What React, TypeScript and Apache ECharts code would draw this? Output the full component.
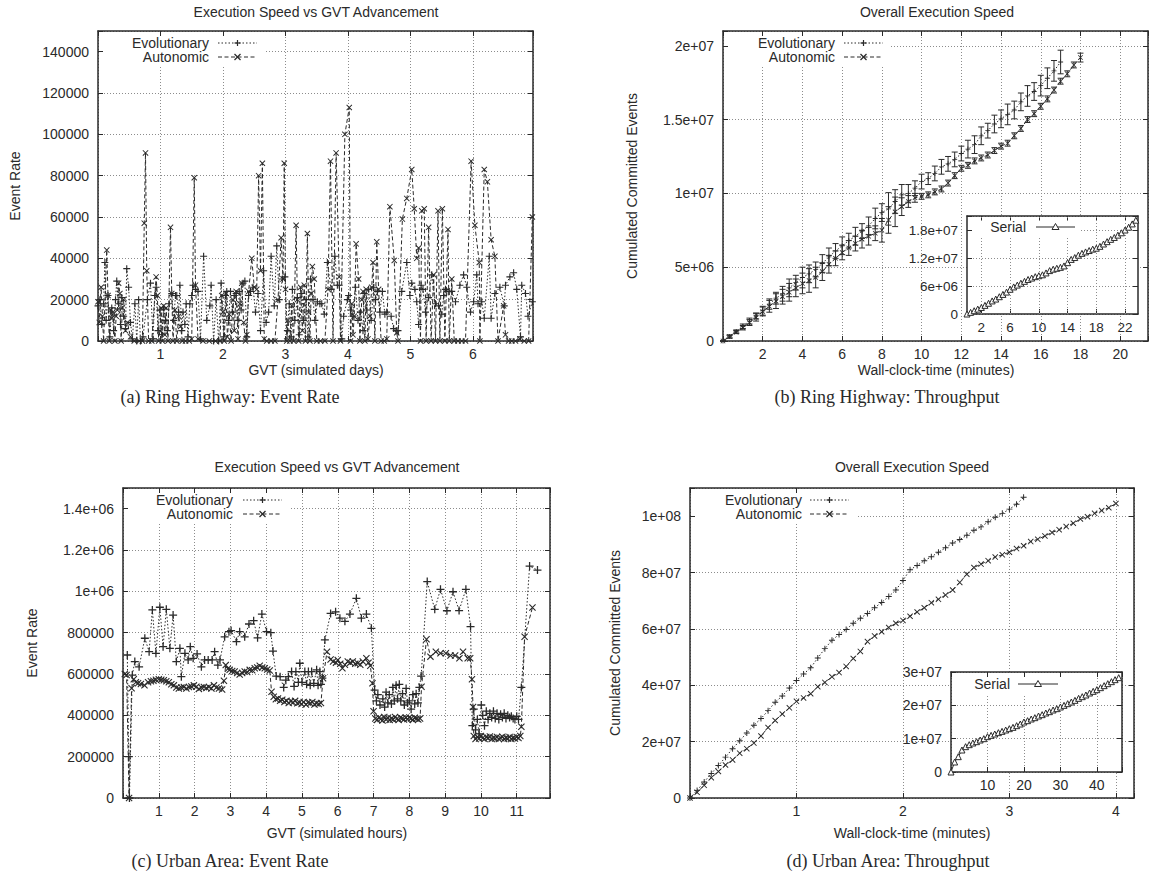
import { useEffect, useRef } from 'react';
import * as echarts from 'echarts';

const INK = '#2a2a2a';
const GRIDC = '#8c8c8c';
const SANS = '"Liberation Sans", Arial, Helvetica, sans-serif';
const SERIF = '"Liberation Serif", "Times New Roman", serif';

// ---------- (a) Ring Highway: Event Rate  [GVT days, thousand events/s]
const aEvolutionary: number[][] = [[0.00,17],[0.03,20],[0.06,8],[0.09,18],[0.11,38],[0.13,10],[0.16,22],[0.19,2],[0.22,16],[0.25,5],[0.28,20],[0.30,29],[0.33,18],[0.36,8],[0.38,21],[0.41,12],[0.44,6],[0.46,35],[0.49,26],[0.52,9],[0.55,1],[0.59,18],[0.62,0],[0.65,20],[0.68,0],[0.72,2],[0.79,20],[0.84,28],[0.88,1],[0.91,22],[0.93,26],[0.96,5],[0.99,15],[1.02,3],[1.05,16],[1.08,10],[1.11,5],[1.14,18],[1.18,23],[1.21,10],[1.24,22],[1.26,22],[1.29,14],[1.31,27],[1.34,5],[1.36,14],[1.39,8],[1.41,18],[1.44,2],[1.47,18],[1.50,22],[1.52,27],[1.56,25],[1.60,24],[1.64,1],[1.69,41],[1.74,10],[1.79,17],[1.81,27],[1.85,0],[1.89,20],[1.93,0],[1.97,28],[2.01,2],[2.04,22],[2.06,24],[2.09,10],[2.12,24],[2.15,14],[2.18,22],[2.21,23],[2.24,10],[2.26,24],[2.29,15],[2.32,28],[2.35,29],[2.38,2],[2.41,22],[2.44,24],[2.48,26],[2.52,14],[2.56,23],[2.60,5],[2.65,34],[2.69,9],[2.73,14],[2.77,41],[2.82,17],[2.86,46],[2.90,20],[2.95,30],[2.99,31],[3.03,5],[3.06,18],[3.09,2],[3.11,25],[3.15,10],[3.19,21],[3.22,3],[3.26,23],[3.29,10],[3.33,20],[3.36,2],[3.40,30],[3.44,20],[3.47,10],[3.51,19],[3.55,18],[3.58,18],[3.62,13],[3.67,38],[3.73,25],[3.79,41],[3.83,27],[3.86,27],[3.90,1],[3.93,12],[3.99,20],[4.01,22],[4.04,15],[4.08,12],[4.12,26],[4.16,10],[4.20,14],[4.24,5],[4.26,23],[4.30,15],[4.33,25],[4.37,10],[4.41,26],[4.44,20],[4.47,24],[4.51,14],[4.55,24],[4.59,13],[4.62,14],[4.69,12],[4.73,6],[4.77,5],[4.80,5],[4.86,24],[4.94,38],[4.99,22],[5.02,28],[5.07,25],[5.10,19],[5.13,8],[5.17,27],[5.20,25],[5.24,14],[5.29,21],[5.34,32],[5.40,18],[5.45,17],[5.50,13],[5.53,22],[5.56,25],[5.58,24],[5.62,24],[5.66,24],[5.72,19],[5.79,27],[5.85,32],[5.90,26],[5.96,14],[6.01,19],[6.06,32],[6.08,18],[6.14,19],[6.18,11],[6.26,41],[6.29,11],[6.35,23],[6.43,26],[6.50,17],[6.52,27],[6.59,31],[6.65,33],[6.70,25],[6.76,2],[6.78,27],[6.84,23],[6.88,12],[6.95,19]];
const aAutonomic: number[][] = [[0.00,19],[0.02,9],[0.05,26],[0.07,12],[0.09,0],[0.14,44],[0.16,22],[0.18,0],[0.20,15],[0.22,11],[0.24,14],[0.27,0],[0.29,12],[0.31,15],[0.33,28],[0.35,23],[0.37,0],[0.39,16],[0.41,20],[0.44,5],[0.47,9],[0.52,2],[0.58,0],[0.66,0],[0.71,0],[0.74,57],[0.76,91],[0.78,34],[0.81,0],[0.86,0],[0.93,31],[0.95,22],[0.97,0],[0.99,5],[1.01,16],[1.03,0],[1.05,17],[1.07,3],[1.09,16],[1.12,0],[1.16,55],[1.18,23],[1.20,0],[1.23,15],[1.26,0],[1.29,12],[1.32,7],[1.35,0],[1.40,0],[1.46,0],[1.50,1],[1.54,79],[1.56,27],[1.60,1],[1.68,0],[1.78,0],[1.88,0],[1.95,0],[1.98,22],[2.00,14],[2.02,0],[2.05,23],[2.07,2],[2.10,13],[2.13,0],[2.16,20],[2.18,5],[2.21,24],[2.24,1],[2.27,18],[2.30,28],[2.33,9],[2.36,0],[2.38,3],[2.41,24],[2.46,40],[2.50,26],[2.54,25],[2.57,80],[2.60,34],[2.63,86],[2.66,1],[2.70,0],[2.77,0],[2.83,0],[2.88,20],[2.93,50],[2.96,30],[2.98,86],[3.00,25],[3.02,0],[3.04,10],[3.07,0],[3.10,17],[3.13,0],[3.17,56],[3.19,20],[3.21,0],[3.24,26],[3.27,5],[3.30,27],[3.32,0],[3.35,52],[3.37,14],[3.39,0],[3.41,23],[3.43,36],[3.46,30],[3.50,0],[3.56,0],[3.63,0],[3.68,25],[3.72,87],[3.76,0],[3.81,91],[3.86,31],[3.88,0],[3.95,100],[4.02,113],[4.04,0],[4.06,18],[4.08,3],[4.10,12],[4.13,47],[4.17,30],[4.19,0],[4.22,20],[4.24,24],[4.27,0],[4.29,25],[4.32,1],[4.35,12],[4.38,26],[4.40,38],[4.43,0],[4.46,48],[4.49,25],[4.53,0],[4.58,0],[4.62,1],[4.67,65],[4.74,39],[4.78,4],[4.80,0],[4.87,59],[4.94,69],[5.02,83],[5.06,64],[5.10,40],[5.13,45],[5.16,0],[5.18,63],[5.22,64],[5.25,0],[5.29,55],[5.33,0],[5.37,32],[5.40,0],[5.44,63],[5.47,0],[5.51,64],[5.55,0],[5.60,54],[5.62,0],[5.66,30],[5.70,0],[5.76,0],[5.82,0],[5.88,0],[5.97,87],[6.03,56],[6.10,38],[6.11,0],[6.18,83],[6.23,77],[6.29,49],[6.35,41],[6.40,0],[6.49,17],[6.52,3],[6.57,0],[6.62,0],[6.68,0],[6.75,1],[6.82,0],[6.89,0],[6.95,60]];

// ---------- (b) Ring Highway: Throughput  [millions of committed events, sampled every bStepMin minutes]
const bStepMin = 1 / 3;
const bEvolutionaryM = [0,0.30,0.65,1.00,1.35,1.70,2.05,2.50,2.90,3.20,3.60,3.95,4.30,4.55,4.85,5.25,5.70,6.10,6.45,6.80,7.10,7.45,7.80,8.30,8.70,8.95,9.45,9.90,10.00,10.35,10.80,11.00,11.35,11.80,12.00,12.30,12.70,13.00,13.30,13.90,14.25,14.70,15.05,15.35,15.65,16.20,16.60,16.90,17.30,17.80,18.30,18.90];
const bEvolutionaryErrM = [0,0.1,0.1,0.15,0.2,0.2,0.3,0.35,0.4,0.5,0.6,0.5,0.7,0.6,0.5,0.6,0.6,0.5,0.6,0.5,0.6,0.5,0.6,0.7,0.6,1.1,0.8,0.7,0.6,0.5,0.5,0.4,0.5,0.5,0.5,0.5,0.5,0.6,0.6,0.6,0.5,0.6,0.6,0.7,0.6,0.6,0.7,0.6,0.7,0.7,0.7,0.8];
const bAutonomicM = [0,0.30,0.60,0.90,1.25,1.60,2.00,2.35,2.70,3.00,3.30,3.60,3.90,4.10,4.30,4.70,5.20,5.60,6.00,6.30,6.60,6.90,7.10,7.30,7.50,8.20,8.75,9.10,9.45,9.70,9.80,9.90,10.10,10.30,10.70,11.20,11.70,11.90,12.20,12.40,12.60,12.90,13.20,13.40,13.90,14.40,15.00,15.40,15.90,16.40,17.00,17.60,18.10,18.70,19.20];
const bAutonomicErrM = [0,0.1,0.1,0.15,0.2,0.25,0.3,0.4,0.5,0.5,0.6,0.6,0.7,0.8,0.7,0.6,0.6,0.5,0.5,0.5,0.5,0.6,0.6,0.5,0.8,0.9,1.0,0.6,0.4,0.3,0.2,0.2,0.2,0.2,0.2,0.2,0.2,0.2,0.2,0.2,0.2,0.2,0.2,0.2,0.2,0.2,0.2,0.2,0.2,0.2,0.2,0.2,0.2,0.2,0.3];
const bSerialStepMin = 0.5;
const bSerialM = [0,0.35,0.7,1.05,1.4,1.85,2.3,2.8,3.2,3.7,4.2,4.7,5.3,5.8,6.2,6.6,7.0,7.4,7.7,8.0,8.2,8.4,8.8,9.3,9.6,9.8,10.0,10.3,11.0,11.7,12.1,12.6,13.0,13.3,13.6,13.9,14.1,14.5,15.0,15.5,16.0,16.4,16.9,17.4,18.0,18.6,19.3,20.1];
const bInsetXTicks = [2, 6, 10, 14, 18, 22];

// ---------- (c) Urban Area: Event Rate  [GVT hours, thousand events/s]
const cEvolutionary: number[][] = [[0.12,692],[0.16,200],[0.18,0],[0.26,595],[0.33,660],[0.45,635],[0.61,773],[0.73,708],[0.82,910],[0.92,700],[1.03,923],[1.12,732],[1.21,913],[1.31,724],[1.40,885],[1.49,660],[1.59,724],[1.63,587],[1.73,700],[1.82,668],[1.88,732],[1.96,676],[2.07,697],[2.19,635],[2.28,668],[2.38,668],[2.49,668],[2.56,708],[2.65,643],[2.71,668],[2.84,780],[2.96,805],[3.02,810],[3.17,757],[3.26,805],[3.40,780],[3.52,842],[3.65,858],[3.76,775],[3.88,890],[4.01,805],[4.13,800],[4.19,711],[4.28,590],[4.39,587],[4.49,535],[4.55,570],[4.62,587],[4.71,612],[4.78,540],[4.83,612],[4.90,560],[4.94,652],[5.00,560],[5.08,612],[5.13,550],[5.18,612],[5.23,545],[5.27,612],[5.33,555],[5.41,620],[5.45,545],[5.50,612],[5.53,550],[5.57,580],[5.64,765],[5.80,893],[5.94,901],[6.06,870],[6.20,855],[6.34,890],[6.52,966],[6.66,870],[6.80,890],[6.94,821],[7.03,522],[7.08,470],[7.12,500],[7.18,450],[7.26,480],[7.31,440],[7.35,512],[7.40,460],[7.44,500],[7.50,455],[7.54,535],[7.58,470],[7.63,545],[7.67,480],[7.72,550],[7.76,470],[7.81,505],[7.86,450],[7.91,530],[7.95,460],[8.00,470],[8.05,430],[8.10,500],[8.15,455],[8.19,505],[8.24,460],[8.28,535],[8.33,590],[8.50,1047],[8.71,913],[8.87,1010],[9.05,906],[9.22,998],[9.39,907],[9.58,1010],[9.71,829],[9.76,350],[9.80,430],[9.85,330],[9.90,380],[9.95,310],[10.01,450],[10.05,400],[10.10,350],[10.15,420],[10.20,380],[10.25,410],[10.30,390],[10.35,420],[10.40,385],[10.45,410],[10.50,380],[10.55,405],[10.60,390],[10.65,410],[10.70,385],[10.75,400],[10.80,390],[10.85,395],[10.90,385],[10.95,380],[11.00,395],[11.05,380],[11.13,535],[11.36,1122],[11.58,1103]];
const cAutonomic: number[][] = [[0.05,600],[0.10,595],[0.17,0],[0.24,531],[0.30,575],[0.36,560],[0.42,555],[0.50,552],[0.60,545],[0.70,560],[0.78,565],[0.85,567],[0.92,572],[1.00,575],[1.07,572],[1.14,570],[1.21,565],[1.28,560],[1.35,550],[1.42,545],[1.49,535],[1.56,530],[1.63,535],[1.70,537],[1.77,530],[1.84,537],[1.91,540],[1.98,545],[2.05,538],[2.12,528],[2.19,535],[2.26,537],[2.33,532],[2.40,537],[2.47,530],[2.54,545],[2.61,535],[2.68,530],[2.77,525],[2.82,567],[2.87,643],[2.93,625],[2.98,620],[3.05,615],[3.12,612],[3.19,605],[3.26,597],[3.33,605],[3.40,612],[3.47,610],[3.54,620],[3.61,618],[3.68,628],[3.75,632],[3.82,640],[3.89,632],[3.96,628],[4.03,622],[4.10,617],[4.15,514],[4.21,490],[4.27,478],[4.33,482],[4.39,470],[4.45,475],[4.51,465],[4.57,470],[4.63,460],[4.69,468],[4.75,462],[4.81,470],[4.87,458],[4.93,462],[4.99,455],[5.05,465],[5.11,452],[5.17,462],[5.23,458],[5.29,465],[5.35,452],[5.41,458],[5.47,455],[5.53,460],[5.59,579],[5.70,708],[5.80,670],[5.87,660],[5.95,655],[6.00,668],[6.07,650],[6.13,628],[6.20,645],[6.28,660],[6.35,655],[6.42,660],[6.49,650],[6.56,652],[6.63,645],[6.70,660],[6.80,676],[6.86,655],[6.91,640],[6.97,555],[7.00,420],[7.05,385],[7.10,378],[7.15,390],[7.20,382],[7.25,375],[7.30,392],[7.35,380],[7.40,388],[7.45,378],[7.50,385],[7.55,380],[7.60,392],[7.65,383],[7.70,378],[7.75,390],[7.80,385],[7.85,380],[7.90,388],[7.95,382],[8.00,390],[8.05,385],[8.10,378],[8.15,388],[8.20,383],[8.25,380],[8.30,385],[8.34,538],[8.48,768],[8.59,684],[8.74,708],[8.87,700],[9.02,700],[9.15,690],[9.28,690],[9.40,676],[9.50,708],[9.63,676],[9.70,676],[9.75,575],[9.78,440],[9.80,300],[9.85,285],[9.90,295],[9.95,288],[10.00,300],[10.05,290],[10.10,285],[10.15,295],[10.20,290],[10.25,298],[10.30,285],[10.35,292],[10.40,288],[10.45,295],[10.50,285],[10.55,290],[10.60,296],[10.65,285],[10.70,292],[10.75,288],[10.80,295],[10.85,285],[10.90,290],[10.95,288],[11.00,295],[11.05,290],[11.10,300],[11.13,345],[11.22,780],[11.44,922]];

// ---------- (d) Urban Area: Throughput  [millions of committed events]
const dStepMin = 1 / 15;
const dEvolutionaryM = [0,2.7,5.7,8.7,11.5,14.5,17.5,20.3,23.1,25.8,28.2,31.0,34.0,36.2,39.0,41.7,44.0,46.2,49.7,53.0,56.0,58.0,59.8,62.0,63.8,65.5,67.5,69.4,71.5,73.8,77.2,81.0,82.5,84.2,85.6,87.2,88.8,90.5,91.7,93.2,95.0,96.2,98.0,99.6,101.0,102.5,104.2,106.7];
const dAutonomicM = [0,2.0,4.5,7.2,9.4,11.7,13.5,15.9,17.5,19.5,22.0,25.0,27.5,29.8,32.0,34.3,35.5,37.0,39.5,41.0,43.0,44.5,46.7,49.5,52.0,55.5,57.5,59.0,60.5,62.0,63.0,64.5,66.0,67.5,69.3,70.5,72.0,73.8,76.5,79.4,81.8,83.0,84.2,85.5,86.3,87.2,88.5,89.5,91.0,91.8,93.0,94.2,95.2,96.3,97.5,99.0,99.8,101.0,102.0,103.0,104.5];
const dSerialStepMin = 1;
const dSerialM = [0,3.0,4.6,6.6,7.6,8.2,8.7,9.1,9.6,10.0,10.6,11.0,11.4,11.8,12.2,12.6,13.0,13.4,13.9,14.4,15.0,15.4,15.9,16.3,16.8,17.2,17.7,18.1,18.6,19.0,19.5,20.0,20.5,21.0,21.5,22.1,22.6,23.1,23.7,24.2,24.7,25.3,25.9,26.5,27.1,27.7,28.3];

// ---------- markers
const PLUS = 'path://M4.2,0H5.8V10H4.2ZM0,4.2H10V5.8H0Z';
const CROSS = 'path://M0,1.1L1.1,0L10,8.9L8.9,10ZM8.9,0L10,1.1L1.1,10L0,8.9Z';
const TRI = 'path://M5,0L10,8.7L0,8.7Z';
const DOTTED = [1.5, 2];
const DASHED = [4, 2.5];

function gfmt(v: number): string {
  if (v === 0) return '0';
  if (Math.abs(v) >= 1e6) {
    const e = Math.floor(Math.log10(Math.abs(v)) + 1e-9);
    const m = parseFloat((v / Math.pow(10, e)).toPrecision(6));
    return `${m}e+${String(e).padStart(2, '0')}`;
  }
  return String(Math.round(v));
}

type AxisCfg = { min: number; max: number; interval?: number; custom?: number[]; hideZero?: boolean };

function onTick(v: number, c: AxisCfg) {
  if (c.custom) return true;
  const k = v / (c.interval as number);
  if (Math.abs(k - Math.round(k)) > 1e-6) return false;
  if (c.hideZero && v === 0) return false;
  return true;
}

function makeAxes(dir: 'x' | 'y', gridIndex: number, c: AxisCfg, fontSize: number, margin: number, z: number) {
  const common: any = {
    type: 'value', gridIndex, min: c.min, max: c.max, z,
    axisLine: { show: true, onZero: false, lineStyle: { color: INK, width: 1.5 } },
    axisTick: { show: true, inside: true, length: 5, lineStyle: { color: INK, width: 1 } },
  };
  if (c.interval !== undefined) common.interval = c.interval;
  if (c.custom) common.axisTick.customValues = c.custom;
  const main: any = {
    ...common,
    position: dir === 'x' ? 'bottom' : 'left',
    axisTick: { ...common.axisTick },
    axisLabel: {
      show: true, margin, color: INK, fontSize, fontFamily: SANS,
      showMinLabel: true, showMaxLabel: true,
      formatter: (v: number) => (onTick(v, c) ? gfmt(v) : ''),
      ...(c.custom ? { customValues: c.custom } : {}),
    },
    splitLine: { show: !c.custom, lineStyle: { color: GRIDC, width: 1, type: [1, 2] } },
  };
  const mirror: any = {
    ...common,
    position: dir === 'x' ? 'top' : 'right',
    axisTick: { ...common.axisTick },
    axisLabel: { show: false },
    splitLine: { show: false },
  };
  return [main, mirror];
}

function legendEntry(label: string, textRight: number, y: number, x1: number, x2: number, mark: 'plus' | 'cross' | 'tri', dash: number[] | null) {
  const els: any[] = [];
  els.push({ type: 'text', z: 11, x: textRight, y, style: { text: label, fill: INK, fontSize: 14, fontFamily: SANS, align: 'right', verticalAlign: 'middle' } });
  els.push({ type: 'line', z: 11, shape: { x1, y1: y, x2, y2: y }, style: { stroke: INK, lineWidth: 1, lineDash: dash || undefined } });
  const cx = (x1 + x2) / 2;
  const s = 3;
  if (mark === 'plus') {
    els.push({ type: 'line', z: 12, shape: { x1: cx - s, y1: y, x2: cx + s, y2: y }, style: { stroke: INK, lineWidth: 1.2 } });
    els.push({ type: 'line', z: 12, shape: { x1: cx, y1: y - s, x2: cx, y2: y + s }, style: { stroke: INK, lineWidth: 1.2 } });
  } else if (mark === 'cross') {
    els.push({ type: 'line', z: 12, shape: { x1: cx - s, y1: y - s, x2: cx + s, y2: y + s }, style: { stroke: INK, lineWidth: 1.2 } });
    els.push({ type: 'line', z: 12, shape: { x1: cx - s, y1: y + s, x2: cx + s, y2: y - s }, style: { stroke: INK, lineWidth: 1.2 } });
  } else {
    els.push({ type: 'polygon', z: 12, shape: { points: [[cx, y - 3.5], [cx + 3.5, y + 2.5], [cx - 3.5, y + 2.5]] }, style: { fill: '#fff', stroke: INK, lineWidth: 1 } });
  }
  return els;
}

function textEl(text: string, x: number, y: number, fontSize: number, family: string, rotate = false) {
  return {
    type: 'text', z: 11, x, y, rotation: rotate ? Math.PI / 2 : 0,
    style: { text, fill: INK, fontSize, fontFamily: family, align: 'center', verticalAlign: 'middle' },
  };
}

function maskRect(x: number, y: number, w: number, h: number) {
  return { type: 'rect', z: 10, shape: { x, y, width: w, height: h }, style: { fill: '#fff' } };
}

function errorBarRender(params: any, api: any) {
  const x = api.value(0);
  const lo = api.coord([x, api.value(1)]);
  const hi = api.coord([x, api.value(2)]);
  const w = 3;
  const st = { stroke: INK, lineWidth: 1 };
  return {
    type: 'group',
    children: [
      { type: 'line', shape: { x1: lo[0], y1: lo[1], x2: hi[0], y2: hi[1] }, style: st },
      { type: 'line', shape: { x1: lo[0] - w, y1: lo[1], x2: lo[0] + w, y2: lo[1] }, style: st },
      { type: 'line', shape: { x1: hi[0] - w, y1: hi[1], x2: hi[0] + w, y2: hi[1] }, style: st },
    ],
  };
}

function lineSeries(name: string, axisIndex: number, data: number[][], symbol: string, size: number, dash: number[] | 'solid', z: number, hollow = false): any {
  return {
    type: 'line', name, xAxisIndex: axisIndex, yAxisIndex: axisIndex, data,
    symbol, symbolSize: size, showSymbol: true, z, silent: true,
    lineStyle: { color: INK, width: 1, type: dash },
    itemStyle: hollow ? { color: '#fff', borderColor: INK, borderWidth: 1 } : { color: INK, borderWidth: 0 },
    emphasis: { disabled: true },
  };
}

export default function App() {
  const ref = useRef<HTMLDivElement>(null);
  useEffect(() => {
    if (!ref.current) return;
    const chart = echarts.init(ref.current, undefined, { renderer: 'svg' });

    const gridBoxes = [
      { left: 98, top: 31, width: 435, height: 310 },
      { left: 723, top: 31, width: 425, height: 310 },
      { left: 967, top: 216, width: 171, height: 98, inset: true },
      { left: 123, top: 488, width: 427, height: 310 },
      { left: 690, top: 488, width: 444, height: 310 },
      { left: 951, top: 672, width: 171, height: 100, inset: true },
    ];
    const xCfg: AxisCfg[] = [
      { min: 0, max: 6.96, interval: 1, hideZero: true },
      { min: 0, max: 21.4, interval: 2, hideZero: true },
      { min: 0, max: 23.8, custom: bInsetXTicks },
      { min: 0, max: 11.93, interval: 1, hideZero: true },
      { min: 0, max: 4.17, interval: 1, hideZero: true },
      { min: 0, max: 46.9, interval: 10, hideZero: true },
    ];
    const yCfg: AxisCfg[] = [
      { min: 0, max: 150000, interval: 20000 },
      { min: 0, max: 2.1e7, interval: 5e6 },
      { min: 0, max: 2.1e7, interval: 6e6 },
      { min: 0, max: 1.5e6, interval: 2e5 },
      { min: 0, max: 1.1e8, interval: 2e7 },
      { min: 0, max: 3e7, interval: 1e7 },
    ];
    const fontSizes = [14, 14, 13.5, 14, 14, 14];

    const grids = gridBoxes.map((g) => ({
      left: g.left, top: g.top, width: g.width, height: g.height,
      containLabel: false, outerBoundsMode: 'none',
      show: !!g.inset, backgroundColor: '#fff', borderWidth: 0,
      z: g.inset ? 3 : 0,
    }));

    const xAxes: any[] = [];
    const yAxes: any[] = [];
    gridBoxes.forEach((g, i) => {
      const z = g.inset ? 4 : 0;
      xAxes.push(...makeAxes('x', i, xCfg[i], fontSizes[i], 6, z));
      yAxes.push(...makeAxes('y', i, yCfg[i], fontSizes[i], 9, z));
    });

    const ax = (g: number) => g * 2;
    const scaleK = (pts: number[][]) => pts.map(([x, v]) => [x, v * 1000]);
    const stepped = (vals: number[], step: number) => vals.map((v, i) => [i * step, v * 1e6]);
    const errs = (vals: number[], e: number[], step: number) => vals.map((v, i) => [i * step, (v - (e[i] ?? 0)) * 1e6, (v + (e[i] ?? 0)) * 1e6]);

    const series: any[] = [
      lineSeries('Evolutionary', ax(0), scaleK(aEvolutionary), PLUS, 7, DOTTED, 2),
      lineSeries('Autonomic', ax(0), scaleK(aAutonomic), CROSS, 6, DASHED, 2),

      { type: 'custom', name: 'Evolutionary error', xAxisIndex: ax(1), yAxisIndex: ax(1), renderItem: errorBarRender, data: errs(bEvolutionaryM, bEvolutionaryErrM, bStepMin), encode: { x: 0, y: [1, 2] }, z: 2, silent: true },
      { type: 'custom', name: 'Autonomic error', xAxisIndex: ax(1), yAxisIndex: ax(1), renderItem: errorBarRender, data: errs(bAutonomicM, bAutonomicErrM, bStepMin), encode: { x: 0, y: [1, 2] }, z: 2, silent: true },
      lineSeries('Evolutionary', ax(1), stepped(bEvolutionaryM, bStepMin), PLUS, 5, DOTTED, 2),
      lineSeries('Autonomic', ax(1), stepped(bAutonomicM, bStepMin), CROSS, 5, DASHED, 2),

      {
        ...lineSeries('Serial', ax(2), stepped(bSerialM, bSerialStepMin), TRI, 6, 'solid', 5, true),
        markLine: {
          silent: true, symbol: ['none', 'none'], label: { show: false }, animation: false,
          lineStyle: { color: GRIDC, type: [1, 2], width: 1 },
          data: bInsetXTicks.map((v) => ({ xAxis: v })),
        },
      },

      lineSeries('Evolutionary', ax(3), scaleK(cEvolutionary), PLUS, 8, DOTTED, 2),
      lineSeries('Autonomic', ax(3), scaleK(cAutonomic), CROSS, 7, DASHED, 2),

      lineSeries('Evolutionary', ax(4), stepped(dEvolutionaryM, dStepMin), PLUS, 6, DOTTED, 2),
      lineSeries('Autonomic', ax(4), stepped(dAutonomicM, dStepMin), CROSS, 6, DASHED, 2),

      lineSeries('Serial', ax(5), stepped(dSerialM, dSerialStepMin), TRI, 6, 'solid', 5, true),
    ];

    const graphics: any[] = [
      // titles
      textEl('Execution Speed vs GVT Advancement', 316, 12, 14, SANS),
      textEl('Overall Execution Speed', 937, 12, 14, SANS),
      textEl('Execution Speed vs GVT Advancement', 337, 467, 14, SANS),
      textEl('Overall Execution Speed', 912, 467, 14, SANS),
      // axis names
      textEl('Event Rate', 15, 186, 14, SANS, true),
      textEl('Cumulated Committed Events', 632, 186, 14, SANS, true),
      textEl('Event Rate', 32, 643, 14, SANS, true),
      textEl('Cumulated Committed Events', 615, 643, 14, SANS, true),
      textEl('GVT (simulated days)', 316, 370, 14, SANS),
      textEl('Wall-clock-time (minutes)', 936, 370, 14, SANS),
      textEl('GVT (simulated hours)', 337, 833, 14, SANS),
      textEl('Wall-clock-time (minutes)', 912, 833, 14, SANS),
      // captions
      textEl('(a) Ring Highway: Event Rate', 230, 397, 18, SERIF),
      textEl('(b) Ring Highway: Throughput', 887, 397, 18, SERIF),
      textEl('(c) Urban Area: Event Rate', 230, 861, 18, SERIF),
      textEl('(d) Urban Area: Throughput', 888, 861, 18, SERIF),
      // key masks
      maskRect(104, 37, 160, 29),
      maskRect(729, 37, 161, 29),
      maskRect(129, 494, 161, 29),
      maskRect(696, 494, 161, 29),
      maskRect(972, 221, 108, 15),
      maskRect(956, 677, 106, 17),
      // keys
      ...legendEntry('Evolutionary', 209, 43, 218, 257, 'plus', DOTTED),
      ...legendEntry('Autonomic', 209, 57, 218, 257, 'cross', DASHED),
      ...legendEntry('Evolutionary', 835, 43, 844, 883, 'plus', DOTTED),
      ...legendEntry('Autonomic', 835, 57, 844, 883, 'cross', DASHED),
      ...legendEntry('Evolutionary', 233, 500, 243, 282, 'plus', DOTTED),
      ...legendEntry('Autonomic', 233, 514, 243, 282, 'cross', DASHED),
      ...legendEntry('Evolutionary', 802, 500, 810, 849, 'plus', DOTTED),
      ...legendEntry('Autonomic', 802, 514, 810, 849, 'cross', DASHED),
      ...legendEntry('Serial', 1026, 227, 1036, 1075, 'tri', null),
      ...legendEntry('Serial', 1010, 684, 1018, 1058, 'tri', null),
    ];

    chart.setOption({
      animation: false,
      backgroundColor: '#fff',
      textStyle: { fontFamily: SANS },
      grid: grids,
      xAxis: xAxes,
      yAxis: yAxes,
      series,
      graphic: { elements: graphics },
    });
    return () => chart.dispose();
  }, []);

  return (
    <div
      ref={ref}
      style={{ position: 'fixed', left: 0, top: 0, width: 1151, height: 878, background: '#fff' }}
    />
  );
}
